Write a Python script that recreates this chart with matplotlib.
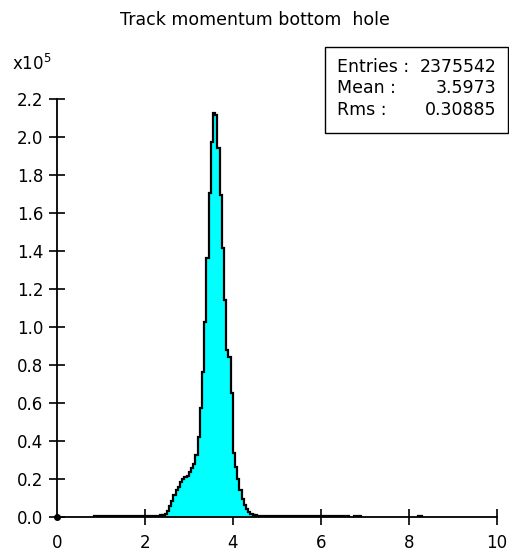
import numpy as np
import matplotlib
matplotlib.use("Agg")
import matplotlib.pyplot as plt
from matplotlib.patches import Rectangle

plt.rcParams['font.family'] = ['DejaVu Sans']

title = "Track momentum bottom  hole"
n_bins = 200
x_lo, x_hi = 0.0, 10.0

# Non-empty stretches of the histogram: first bin index and counts per 0.05 bin
low_tail_start = 17
low_tail = [420, 450, 460, 480, 470, 490, 500, 510, 500, 520, 530, 540, 550,
            560, 550, 570, 580, 600, 590, 610, 620, 630, 640, 650, 660, 680,
            700, 720, 750, 780, 820]

peak_start = 48
peak = [900, 1580, 3420, 6050, 8420, 11580, 13950, 16050, 18420, 19740,
        20790, 21840, 23680, 25790, 27890, 32630, 42100, 57370, 76320,
        102630, 136320, 170530, 197370, 212630, 211580, 194210, 169470,
        141580, 114210, 87890, 84210, 65260, 33680, 26320, 20000, 14210,
        9470, 6320, 3950, 2370, 1320, 900]

high_tail_start = 90
high_tail = [820, 780, 750, 720, 700, 680, 660, 640, 620, 600, 590, 580, 570,
             560, 550, 540, 530, 520, 510, 500, 490, 480]

far_tail_start = 113
far_tail = [460, 450, 450, 440, 450, 440, 430, 440, 430, 420, 430, 420, 410,
            420, 410, 400, 410, 400, 400, 390]

blip1_start = 135
blip1 = [420, 450, 410]

blip2_start = 164
blip2 = [430, 420]

segments = [(low_tail_start, low_tail), (peak_start, peak),
            (high_tail_start, high_tail), (far_tail_start, far_tail),
            (blip1_start, blip1), (blip2_start, blip2)]

y_tick_values = [0.0, 0.2, 0.4, 0.6, 0.8, 1.0, 1.2, 1.4, 1.6, 1.8, 2.0, 2.2]
y_scale = 1e5
x_tick_values = [0, 2, 4, 6, 8, 10]

stats_labels = ["Entries :", "Mean :", "Rms :"]
stats_values = ["2375542", "3.5973", "0.30885"]

# ---------------------------------------------------------------------------
edges = np.linspace(x_lo, x_hi, n_bins + 1)
counts = np.zeros(n_bins)
for start, vals in segments:
    counts[start:start + len(vals)] = vals

W, H = 509, 552
fig = plt.figure(figsize=(W / 100, H / 100), dpi=100)
ax = fig.add_axes([56.7 / W, 1 - 517 / H, (497 - 56.7) / W, (517 - 99) / H])

ax.stairs(counts, edges, fill=True, color='#00FFFF', linewidth=0, zorder=2)
for start, vals in segments:
    ax.stairs(vals, edges[start:start + len(vals) + 1], baseline=0,
              color='black', linewidth=1.6, zorder=3)

ax.set_xlim(x_lo, x_hi)
ax.set_ylim(0, y_tick_values[-1] * y_scale)

for side in ('top', 'right'):
    ax.spines[side].set_visible(False)
for side in ('left', 'bottom'):
    ax.spines[side].set_linewidth(1.3)
    ax.spines[side].set_zorder(4)

ax.set_xticks(x_tick_values)
ax.set_xticklabels([str(v) for v in x_tick_values])
ax.set_yticks([v * y_scale for v in y_tick_values])
ax.set_yticklabels([f"{v:.1f}" for v in y_tick_values])
ax.tick_params(axis='both', direction='inout', length=12, width=1.2,
               labelsize=12, colors='black')
ax.tick_params(axis='y', pad=3.7)
ax.tick_params(axis='x', pad=6.5)
ax.xaxis.get_major_ticks()[0].tick1line.set_visible(False)

ax.plot([0], [0], 'o', color='black', markersize=4, clip_on=False, zorder=5)

fig.text(0.5, 1 - 20 / H, title, ha='center', va='center', fontsize=12.5)
fig.text(12 / W, 1 - 70 / H, r"x10$^{5}$", ha='left', va='baseline',
         fontsize=12)

# Statistics box
fig.patches.append(Rectangle((325 / W, 1 - 133 / H), (508 - 325) / W,
                             (133 - 47) / H, transform=fig.transFigure,
                             fill=False, edgecolor='black', linewidth=1.0))
for i, (lab, val) in enumerate(zip(stats_labels, stats_values)):
    yy = 1 - (66.7 + 21.7 * i) / H
    fig.text(336.7 / W, yy, lab, ha='left', va='center', fontsize=12.5)
    fig.text(496.7 / W, yy, val, ha='right', va='center', fontsize=12.5)

fig.savefig("out.png", dpi=100)
